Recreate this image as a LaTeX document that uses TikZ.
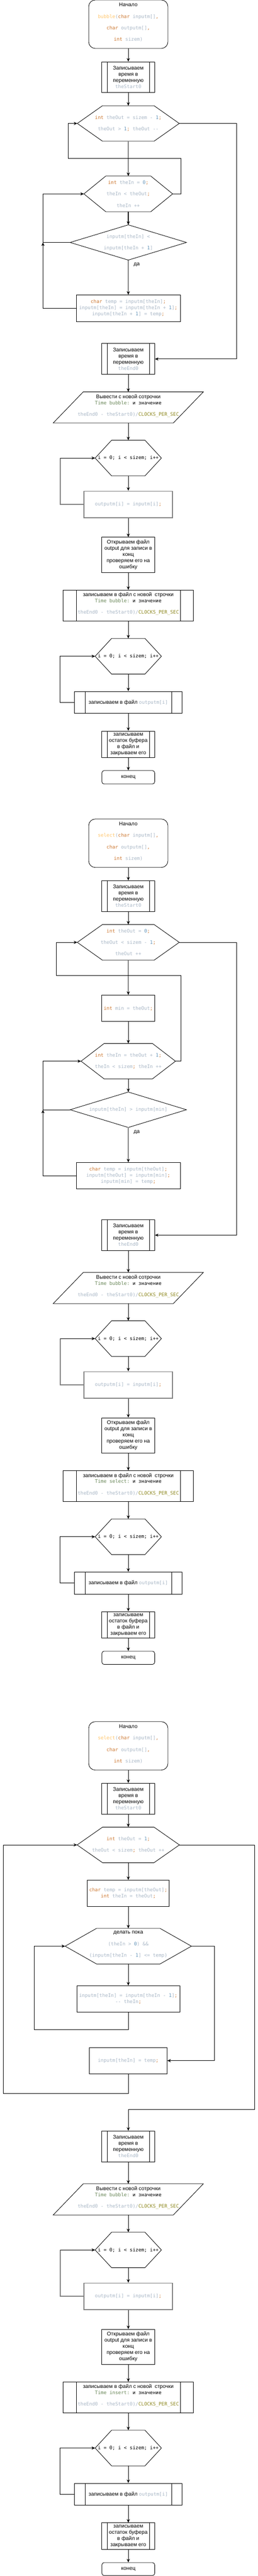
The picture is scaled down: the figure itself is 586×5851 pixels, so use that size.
\documentclass[tikz,border=0pt]{standalone}
\usepackage{fontspec}
\setmainfont{Liberation Sans}
\setmonofont[Scale=0.91]{DejaVu Sans Mono}
\usetikzlibrary{positioning,arrows.meta}
\definecolor{kwcol}{HTML}{CC7832}
\definecolor{fncol}{HTML}{FFC66D}
\definecolor{idcol}{HTML}{A9B7C6}
\definecolor{nmcol}{HTML}{6897BB}
\definecolor{stcol}{HTML}{6A8759}
\definecolor{mccol}{HTML}{908B25}
\definecolor{lgrey}{HTML}{808080}
\newcommand{\cln}[1]{{\ttfamily\color{idcol}#1}}
\newcommand{\ckw}[1]{{\color{kwcol}#1}}
\newcommand{\cfn}[1]{{\color{fncol}#1}}
\newcommand{\cnm}[1]{{\color{nmcol}#1}}
\newcommand{\cmc}[1]{{\color{mccol}#1}}
\newcommand{\timeln}[1]{{\ttfamily\textcolor{stcol}{Time #1:} и значение}}
\newcommand{\clockln}{\cln{theEnd0 - theStart0)/\cmc{CLOCKS\_PER\_SEC}}}
\newcommand{\liftup}{\\[-4pt]\mbox{}}
\newcommand{\hexpath}[2]{\draw (#1.west) -- ([xshift=#2]#1.north west) -- ([xshift=-#2]#1.north east) -- (#1.east) -- ([xshift=-#2]#1.south east) -- ([xshift=#2]#1.south west) -- cycle;}
\newcommand{\rhombpath}[1]{\draw (#1.west) -- (#1.north) -- (#1.east) -- (#1.south) -- cycle;}
\newcommand{\parapath}[2]{\draw ([xshift=#2]#1.north west) -- (#1.north east) -- ([xshift=-#2]#1.south east) -- (#1.south west) -- cycle;}
\tikzset{
term/.style={
  draw,
  rectangle,
  rounded corners=15pt,
  align=center,
  inner sep=0pt,
  minimum width=180,
  minimum height=110
  },
subproc/.style={
  draw,
  rectangle,
  align=center,
  inner sep=0pt,
  minimum width=120,
  minimum height=70,
  path picture={\draw ([xshift=#1]path picture bounding box.north west) -- ([xshift=#1]path picture bounding box.south west) ([xshift=-#1]path picture bounding box.north east) -- ([xshift=-#1]path picture bounding box.south east);}
  },
subproc/.default=12,
block/.style={
  draw,
  rectangle,
  align=center,
  inner sep=0pt,
  minimum width=120,
  minimum height=60
  },
gblock/.style={block, draw=lgrey, line width=2pt},
form/.style={rectangle, inner sep=0pt, align=center},
line/.style={draw, -{Stealth[length=8pt,width=7pt,inset=2.5pt]}},
gline/.style={draw, line width=2pt, lgrey, -{Stealth[length=8pt,width=7pt,inset=2.5pt,color=black]}}
}

\begin{document}
\begin{tikzpicture}[x=1pt,y=-1pt,line width=1pt,font=\fontsize{12}{14}\selectfont]
\useasboundingbox (0,0) rectangle (586,5851);

% ---- bubble
\node[term] (s1) at (291.5,55) {Начало\\[12pt]\cln{\cfn{bubble}(\ckw{char} inputm[]\ckw{,}}\\[12pt]\cln{\ckw{char} outputm[]\ckw{,}}\\[12pt]\cln{\ckw{int} sizem)}\liftup};
\node[subproc] (t1) at (291.5,175.5) {Записываем\\время в\\переменную\\\cln{theStart0}};
\node[form, minimum width=230.7, minimum height=79.5] (o1) at (291.5,280.4) {\cln{\ckw{int} theOut = sizem - \cnm{1}\ckw{;}}\\[12pt]\cln{theOut > \cnm{1}\ckw{;} theOut --}};
\hexpath{o1}{57.2}
\node[form, minimum width=200.7, minimum height=80] (i1) at (291.5,440.4) {\cln{\ckw{int} theIn = \cnm{0}\ckw{;}}\\[12pt]\cln{theIn < theOut\ckw{;}}\\[12pt]\cln{theIn ++}};
\hexpath{i1}{49.7}
\node[form, minimum width=263.5, minimum height=79] (c1) at (291.5,550.7) {\cln{inputm[theIn] <}\\[12pt]\cln{inputm[theIn + \cnm{1}]}};
\rhombpath{c1}
\node[block, minimum width=236.2, minimum height=60.3] (sw1) at (291.5,700.2) {\cln{\ckw{char} temp = inputm[theIn]\ckw{;}}\\\cln{inputm[theIn] = inputm[theIn + \cnm{1}]\ckw{;}}\\\cln{inputm[theIn + \cnm{1}] = temp\ckw{;}}};
\node[subproc] (e1) at (291.5,815.4) {Записываем\\время в\\переменную\\\cln{theEnd0}};
\node[form, minimum width=340.2, minimum height=69.7] (p1) at (291.5,925.4) {Вывести с новой сотрочки\\\timeln{bubble}\\[12pt]\clockln\liftup};
\parapath{p1}{68.3}
\node[form, minimum width=149.6, minimum height=80] (f1) at (291.5,1040.4) {\texttt{i = 0; i < sizem; i++}};
\hexpath{f1}{37.4}
\node[gblock, minimum width=201.4, minimum height=60.3] (cp1) at (291.5,1145.8) {\cln{outputm[i] = inputm[i]\ckw{;}}};
\node[block, minimum height=79.8] (op1) at (291.5,1260.3) {Открываем файл\\output для записи в\\конц\\проверяем его на\\ошибку};
\node[subproc=30, minimum width=296] (wr1) at (291.5,1375.3) {записываем в файл с новой\ \ строчки\\\timeln{bubble}\\[12pt]\clockln\liftup};
\node[form, minimum width=149.6, minimum height=80] (g1) at (291.5,1490.6) {\texttt{i = 0; i < sizem; i++}};
\hexpath{g1}{37.4}
\node[subproc=24, minimum width=244.5, minimum height=50.2] (wo1) at (291.5,1595.5) {записываем в файл \cln{outputm[i]}};
\node[subproc, minimum height=60] (rb1) at (291.5,1690.5) {записываем\\остаток буфера\\в файл и\\закрываем его};
\node[term, rounded corners=5pt, minimum width=120, minimum height=30.3] (k1) at (291.5,1765.5) {конец};

\coordinate (lpA1) at (411.6,360.3);
\coordinate (lpB1) at (155.5,360.3);
\coordinate (lf1) at (97.6,550.7);
\coordinate (rt1) at (537.6,280.4);
\coordinate (gt1) at (136.8,1040.4);

\draw[line] (s1.south) -- (t1.north);
\draw[line] (t1.south) -- (o1.north);
\draw[gline] (o1.south) -- (i1.north);
\draw[line] (i1.east) -| (lpA1) -- (lpB1) |- (o1.west);
\draw[line, line width=1.6pt] (i1.south) -- (c1.north);
\draw[gline] (c1.south) -- node[pos=0.14, right, xshift=8pt, text=black] {да} (sw1.north);
\draw[line] (c1.west) -- (lf1) |- (i1.west);
\draw[line] (sw1.west) -| (lf1);
\draw[line] (o1.east) -- (rt1) |- (e1.east);
\draw[line] (e1.south) -- (p1.north);
\draw[line] (p1.south) -- (f1.north);
\draw[line] (f1.south) -- (cp1.north);
\draw[draw=lgrey, line width=2pt] (cp1.west) -| (gt1);
\draw[line] (gt1) -- (f1.west);
\draw[line] (cp1.south) -- (op1.north);
\draw[line] (op1.south) -- (wr1.north);
\draw[line] (wr1.south) -- (g1.north);
\draw[line] (g1.south) -- (wo1.north);
\draw[line] (wo1.west) -- ++(-32.5,0) |- (g1.west);
\draw[line] (wo1.south) -- (rb1.north);
\draw[line] (rb1.south) -- (k1.north);

% ---- select
\node[term] (s2) at (291.5,1915.3) {Начало\\[12pt]\cln{\cfn{select}(\ckw{char} inputm[]\ckw{,}}\\[12pt]\cln{\ckw{char} outputm[]\ckw{,}}\\[12pt]\cln{\ckw{int} sizem)}\liftup};
\node[subproc] (t2) at (291.5,2035.3) {Записываем\\время в\\переменную\\\cln{theStart0}};
\node[form, minimum width=230.7, minimum height=80] (o2) at (291.5,2140.4) {\cln{\ckw{int} theOut = \cnm{0}\ckw{;}}\\[12pt]\cln{theOut < sizem - \cnm{1}\ckw{;}}\\[12pt]\cln{theOut ++}};
\hexpath{o2}{57.2}
\node[block, minimum height=59.8] (m2) at (291.5,2290.2) {\cln{\ckw{int} min = theOut\ckw{;}}};
\node[form, minimum width=213.5, minimum height=79.5] (i2) at (291.5,2410.3) {\cln{\ckw{int} theIn = theOut + \cnm{1}\ckw{;}}\\[12pt]\cln{theIn < sizem\ckw{;} theIn ++}};
\hexpath{i2}{52.4}
\node[form, minimum width=263.5, minimum height=79.5] (c2) at (291.5,2520.6) {\cln{inputm[theIn] > inputm[min]}};
\rhombpath{c2}
\node[block, minimum width=236.2, minimum height=59.4] (sw2) at (291.5,2670.3) {\cln{\ckw{char} temp = inputm[theOut]\ckw{;}}\\\cln{inputm[theOut] = inputm[min]\ckw{;}}\\\cln{inputm[min] = temp\ckw{;}}};
\node[subproc, minimum height=70.5] (e2) at (291.5,2805.4) {Записываем\\время в\\переменную\\\cln{theEnd0}};
\node[form, minimum width=340.2, minimum height=69.7] (p2) at (291.5,2925.5) {Вывести с новой сотрочки\\\timeln{bubble}\\[12pt]\clockln\liftup};
\parapath{p2}{68.3}
\node[form, minimum width=149.6, minimum height=80] (f2) at (291.5,3040.4) {\texttt{i = 0; i < sizem; i++}};
\hexpath{f2}{37.4}
\node[gblock, minimum width=201.4, minimum height=60.3] (cp2) at (291.5,3145.8) {\cln{outputm[i] = inputm[i]\ckw{;}}};
\node[block, minimum height=79.8] (op2) at (291.5,3260.3) {Открываем файл\\output для записи в\\конц\\проверяем его на\\ошибку};
\node[subproc=30, minimum width=296] (wr2) at (291.5,3375.5) {записываем в файл с новой\ \ строчки\\\timeln{select}\\[12pt]\clockln\liftup};
\node[form, minimum width=149.6, minimum height=80] (g2) at (291.5,3490.5) {\texttt{i = 0; i < sizem; i++}};
\hexpath{g2}{37.4}
\node[subproc=24, minimum width=244.5, minimum height=50] (wo2) at (291.5,3595.5) {записываем в файл \cln{outputm[i]}};
\node[subproc, minimum height=60] (rb2) at (291.5,3690.4) {записываем\\остаток буфера\\в файл и\\закрываем его};
\node[term, rounded corners=5pt, minimum width=120, minimum height=30] (k2) at (291.5,3765.4) {конец};

\coordinate (lpA2) at (411.6,2215.6);
\coordinate (lpB2) at (127.5,2215.6);
\coordinate (lf2) at (97.6,2520.6);
\coordinate (rt2) at (537.6,2140.4);
\coordinate (gt2) at (136.8,3040.4);

\draw[line] (s2.south) -- (t2.north);
\draw[line] (t2.south) -- (o2.north);
\draw[gline] (o2.south) -- (m2.north);
\draw[line] (m2.south) -- (i2.north);
\draw[line] (i2.east) -| (lpA2) -- (lpB2) |- (o2.west);
\draw[line] (i2.south) -- (c2.north);
\draw[gline] (c2.south) -- node[pos=0.14, right, xshift=8pt, text=black] {да} (sw2.north);
\draw[line] (c2.west) -- (lf2) |- (i2.west);
\draw[line] (sw2.west) -| (lf2);
\draw[line] (o2.east) -- (rt2) |- (e2.east);
\draw[line] (e2.south) -- (p2.north);
\draw[line] (p2.south) -- (f2.north);
\draw[line] (f2.south) -- (cp2.north);
\draw[draw=lgrey, line width=2pt] (cp2.west) -| (gt2);
\draw[line] (gt2) -- (f2.west);
\draw[line] (cp2.south) -- (op2.north);
\draw[line] (op2.south) -- (wr2.north);
\draw[line] (wr2.south) -- (g2.north);
\draw[line] (g2.south) -- (wo2.north);
\draw[line] (wo2.west) -- ++(-32.5,0) |- (g2.west);
\draw[line] (wo2.south) -- (rb2.north);
\draw[line] (rb2.south) -- (k2.north);

% ---- insert
\node[term] (s3) at (291.5,3965.4) {Начало\\[12pt]\cln{\cfn{select}(\ckw{char} inputm[]\ckw{,}}\\[12pt]\cln{\ckw{char} outputm[]\ckw{,}}\\[12pt]\cln{\ckw{int} sizem)}\liftup};
\node[subproc] (t3) at (291.5,4085.3) {Записываем\\время в\\переменную\\\cln{theStart0}};
\node[form, minimum width=231.4, minimum height=80] (o3) at (291.5,4190.4) {\cln{\ckw{int} theOut = \cnm{1}\ckw{;}}\\[12pt]\cln{theOut < sizem\ckw{;} theOut ++}};
\hexpath{o3}{57.9}
\node[block, minimum width=185.8, minimum height=59.9] (tb3) at (291.5,4300.5) {\cln{\ckw{char} temp = inputm[theOut]\ckw{;}}\\\cln{\ckw{int} theIn = theOut\ckw{;}}};
\node[form, minimum width=286, minimum height=79.9] (d3) at (291.5,4420.4) {делать пока\\[12pt]\cln{(theIn > \cnm{0}) \&\&}\\[12pt]\cln{(inputm[theIn - \cnm{1}] <= temp)}\liftup};
\hexpath{d3}{71.4}
\node[block, minimum width=234, minimum height=59.8] (sh3) at (291.5,4540.2) {\cln{inputm[theIn] = inputm[theIn - \cnm{1}]\ckw{;}}\\\cln{-- theIn\ckw{;}}};
\node[block, minimum width=176.4, minimum height=59.9] (it3) at (291.5,4680.4) {\cln{inputm[theIn] = temp\ckw{;}}};
\node[subproc] (e3) at (291.5,4875.2) {Записываем\\время в\\переменную\\\cln{theEnd0}};
\node[form, minimum width=340.2, minimum height=69.8] (p3) at (291.5,4995.5) {Вывести с новой сотрочки\\\timeln{bubble}\\[12pt]\clockln\liftup};
\parapath{p3}{68.3}
\node[form, minimum width=149.6, minimum height=79.6] (f3) at (291.5,5110.4) {\texttt{i = 0; i < sizem; i++}};
\hexpath{f3}{37.4}
\node[gblock, minimum width=201.4, minimum height=60] (cp3) at (291.5,5215.8) {\cln{outputm[i] = inputm[i]\ckw{;}}};
\node[block, minimum height=79.6] (op3) at (291.5,5330.4) {Открываем файл\\output для записи в\\конц\\проверяем его на\\ошибку};
\node[subproc=30, minimum width=296] (wr3) at (291.5,5445.3) {записываем в файл с новой\ \ строчки\\\timeln{insert}\\[12pt]\clockln\liftup};
\node[form, minimum width=149.6, minimum height=80] (g3) at (291.5,5560.3) {\texttt{i = 0; i < sizem; i++}};
\hexpath{g3}{37.4}
\node[subproc=24, minimum width=244.5, minimum height=50] (wo3) at (291.5,5665.3) {записываем в файл \cln{outputm[i]}};
\node[subproc, minimum height=60] (rb3) at (291.5,5760.3) {записываем\\остаток буфера\\в файл и\\закрываем его};
\node[term, rounded corners=5pt, minimum width=120, minimum height=29.4] (k3) at (291.5,5835.2) {конец};

\coordinate (lb3) at (77.4,4610.3);
\coordinate (dr3) at (487.5,4680.4);
\coordinate (ll3) at (7.5,4755.4);
\coordinate (rr3) at (578,4791);
\coordinate (gt3) at (136.8,5110.4);

\draw[line] (s3.south) -- (t3.north);
\draw[line] (t3.south) -- (o3.north);
\draw[line] (o3.south) -- (tb3.north);
\draw[line] (tb3.south) -- (d3.north);
\draw[line] (d3.south) -- (sh3.north);
\draw[line] (sh3.south) |- (lb3) |- (d3.west);
\draw[line] (d3.east) -| (dr3) -- (it3.east);
\draw[line] (it3.south) |- (ll3) |- (o3.west);
\draw[line] (o3.east) -| (rr3) -| (e3.north);
\draw[line] (e3.south) -- (p3.north);
\draw[line] (p3.south) -- (f3.north);
\draw[line] (f3.south) -- (cp3.north);
\draw[draw=lgrey, line width=2pt] (cp3.west) -| (gt3);
\draw[line] (gt3) -- (f3.west);
\draw[line] (cp3.south) -- (op3.north);
\draw[line] (op3.south) -- (wr3.north);
\draw[line] (wr3.south) -- (g3.north);
\draw[line] (g3.south) -- (wo3.north);
\draw[line] (wo3.west) -- ++(-32.5,0) |- (g3.west);
\draw[line] (wo3.south) -- (rb3.north);
\draw[line] (rb3.south) -- (k3.north);

\end{tikzpicture}
\end{document}
